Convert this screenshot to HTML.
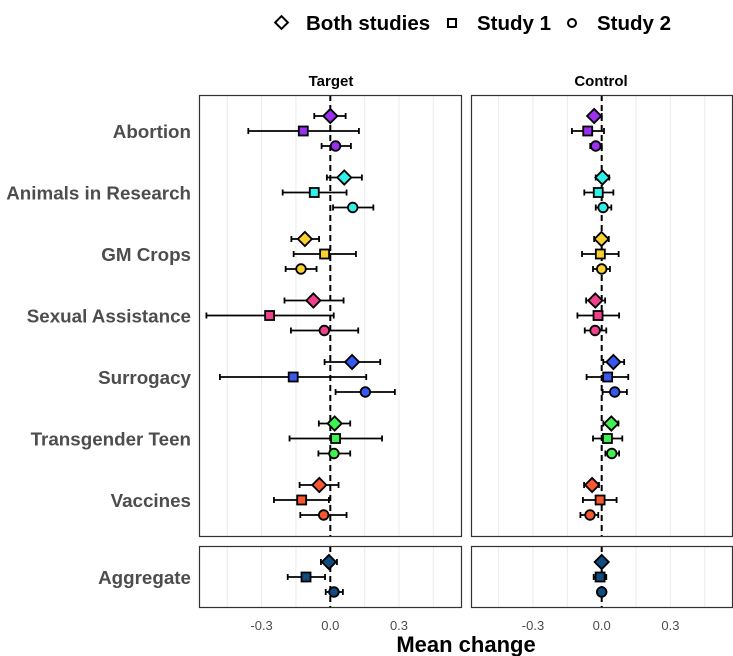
<!DOCTYPE html>
<html><head><meta charset="utf-8"><style>
html,body{margin:0;padding:0;background:#fff;}
svg{display:block;font-family:"Liberation Sans",Arial,sans-serif;}
</style></head><body>
<svg id="chart" width="733" height="656" viewBox="0 0 733 656" xmlns="http://www.w3.org/2000/svg">
<g id="legend">
  <g>
    <rect x="277" y="18" width="9" height="9" transform="rotate(45 281.5 22.5)" fill="none" stroke="#000" stroke-width="2"/>
    <text x="306" y="30" font-size="20.5" font-weight="bold">Both studies</text>
  </g>
  <g>
    <rect x="448" y="19" width="8" height="8" fill="none" stroke="#000" stroke-width="2"/>
    <text x="477" y="30" font-size="20.5" font-weight="bold">Study 1</text>
  </g>
  <g>
    <circle cx="572" cy="23" r="4" fill="none" stroke="#000" stroke-width="2"/>
    <text x="597" y="30" font-size="20.5" font-weight="bold">Study 2</text>
  </g>
</g>
<text x="331" y="86" text-anchor="middle" font-size="15" font-weight="bold">Target</text>
<text x="601" y="86" text-anchor="middle" font-size="15" font-weight="bold">Control</text>
<text x="466" y="652" text-anchor="middle" font-size="22" font-weight="bold">Mean change</text>
<g id="plot"></g>
</svg>
<script>
const categories = ["Abortion","Animals in Research","GM Crops","Sexual Assistance","Surrogacy","Transgender Teen","Vaccines","Aggregate"];
const colors = ["#9b30f0","#30f0e8","#f8d030","#f0408c","#3858f0","#40f050","#f85830","#104c80"];
const tickValues = [-0.3, 0.0, 0.3];
const tickLabels = ["-0.3","0.0","0.3"];
// Target panel: [estimate, low, high]
const targetBoth = [[0,-0.07,0.067],[0.061,-0.015,0.138],[-0.111,-0.17,-0.049],[-0.074,-0.2,0.058],[0.095,-0.025,0.218],[0.019,-0.05,0.087],[-0.048,-0.134,0.036],[-0.006,-0.041,0.029]];
const targetStudy1 = [[-0.118,-0.358,0.125],[-0.07,-0.208,0.071],[-0.025,-0.16,0.112],[-0.265,-0.541,0.015],[-0.162,-0.482,0.157],[0.023,-0.178,0.226],[-0.125,-0.246,-0.006],[-0.106,-0.186,-0.023]];
const targetStudy2 = [[0.023,-0.038,0.09],[0.098,0.012,0.188],[-0.128,-0.195,-0.06],[-0.026,-0.172,0.122],[0.153,0.023,0.282],[0.016,-0.052,0.087],[-0.029,-0.131,0.071],[0.016,-0.02,0.055]];
// Control panel
const controlBoth = [[-0.033,-0.05,0.0],[0.003,-0.026,0.033],[-0.001,-0.033,0.031],[-0.028,-0.068,0.015],[0.051,0.007,0.098],[0.042,0.007,0.073],[-0.042,-0.077,-0.012],[0,-0.012,0.012]];
const controlStudy1 = [[-0.061,-0.13,0.01],[-0.015,-0.076,0.051],[-0.006,-0.086,0.074],[-0.016,-0.106,0.076],[0.026,-0.066,0.116],[0.025,-0.038,0.09],[-0.007,-0.082,0.065],[-0.007,-0.035,0.02]];
const controlStudy2 = [[-0.026,-0.05,0.0],[0.006,-0.026,0.042],[0,-0.038,0.036],[-0.029,-0.074,0.02],[0.057,0.004,0.11],[0.044,0.016,0.076],[-0.051,-0.093,-0.015],[0,-0.008,0.008]];

const NS="http://www.w3.org/2000/svg";
const plot=document.getElementById('plot');
function mk(tag,attrs,parent){const e=document.createElementNS(NS,tag);for(const k in attrs)e.setAttribute(k,attrs[k]);(parent||plot).appendChild(e);return e;}
const SCALE=229;
const panels=[{name:'target',x0:199,x1:462,zero:330.3,both:targetBoth,s1:targetStudy1,s2:targetStudy2},
              {name:'control',x0:471,x1:733,zero:601.7,both:controlBoth,s1:controlStudy1,s2:controlStudy2}];
const topY0=95, topY1=537, botY0=546, botY1=608;
function rowY(i){return i<7?131+i*61.5:577;}
panels.forEach(p=>{
  const xs=v=>p.zero+v*SCALE;
  [[topY0,topY1,'top'],[botY0,botY1,'bottom']].forEach(([a,b,nm])=>{
    const g=mk('g',{});
    
    
    mk('rect',{x:p.x0,y:a,width:p.x1-p.x0,height:b-a,fill:'#fff'},g);
    for(let v=-0.6;v<=0.61;v+=0.15){const x=xs(v);if(x>p.x0+1&&x<p.x1-1)mk('line',{x1:x,x2:x,y1:a,y2:b,stroke:'#ebebeb','stroke-width':1},g);}
    mk('line',{x1:xs(0),x2:xs(0),y1:a,y2:b,stroke:'#000','stroke-width':2,'stroke-dasharray':'6,4'},g);
  });
  tickValues.forEach((v,i)=>{
    const t=mk('text',{x:xs(v),y:630,'text-anchor':'middle','font-size':13,fill:'#4d4d4d'});
    t.textContent=tickLabels[i];
    
    
  });
  categories.forEach((c,i)=>{
    const yc=rowY(i);
    [['both',p.both,-15],['s1',p.s1,0],['s2',p.s2,15]].forEach(([kind,arr,dy])=>{
      const d=arr[i], y=yc+dy;
      const g=mk('g',{});
      
      
      mk('line',{x1:xs(d[1]),x2:xs(d[2]),y1:y,y2:y,stroke:'#000','stroke-width':1.8},g);
      mk('line',{x1:xs(d[1]),x2:xs(d[1]),y1:y-3,y2:y+3,stroke:'#000','stroke-width':1.8},g);
      mk('line',{x1:xs(d[2]),x2:xs(d[2]),y1:y-3,y2:y+3,stroke:'#000','stroke-width':1.8},g);
      const x=xs(d[0]);
      if(kind==='both'){
        mk('rect',{x:x-5,y:y-5,width:10,height:10,transform:`rotate(45 ${x} ${y})`,fill:colors[i],stroke:'#000','stroke-width':1.8},g);
      }else if(kind==='s1'){
        mk('rect',{x:x-4.5,y:y-4.5,width:9,height:9,fill:colors[i],stroke:'#000','stroke-width':1.8},g);
      }else{
        mk('circle',{cx:x,cy:y,r:4.8,fill:colors[i],stroke:'#000','stroke-width':1.8},g);
      }
    });
    if(p.name==='target'){
      const t=mk('text',{x:191,y:yc+7,'text-anchor':'end','font-size':18.8,'font-weight':'bold',fill:'#4d4d4d'});
      t.textContent=c;
      
      
    }
  });
  [[topY0,topY1],[botY0,botY1]].forEach(([a,b])=>{
    mk('rect',{x:p.x0+0.5,y:a+0.5,width:p.x1-p.x0-1,height:b-a-1,fill:'none',stroke:'#333','stroke-width':1.2});
  });
});
</script>
</body></html>
